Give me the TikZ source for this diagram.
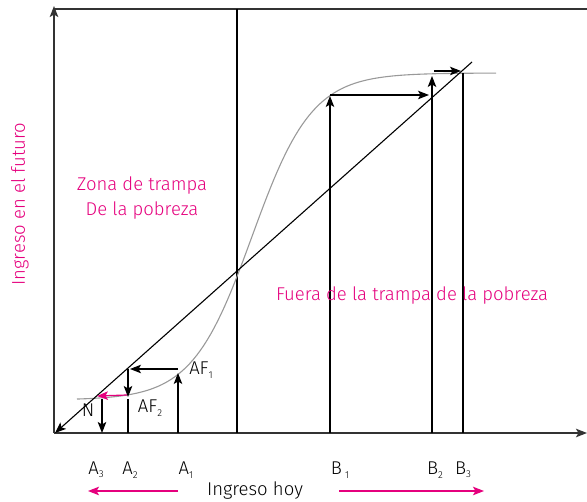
\documentclass[tikz,border=0pt]{standalone}
\usepackage{fontspec}
\setmainfont{Fira Sans}[UprightFont={* Light}]
\usetikzlibrary{arrows.meta}
\definecolor{mag}{HTML}{E5007D}
\definecolor{curvegray}{HTML}{999999}
\definecolor{axisgray}{HTML}{333333}
\tikzset{
  tip/.style={-{Stealth[length=11pt,width=8.5pt,inset=2.5pt]}},
  ln/.style={line width=1.1pt, black},
  ax/.style={line width=1.4pt, axisgray},
  lab/.style={font=\fontsize{18.5}{20}\selectfont, inner sep=0pt},
  maglab/.style={font=\fontsize{18.5}{24.5}\selectfont, text=mag, inner sep=0pt, align=center},
  magarrow/.style={line width=1.2pt, mag, -{Stealth[length=11pt,width=8.5pt,inset=2.5pt]}}
}
\newcommand{\subl}[1]{\raisebox{-0.35ex}{\fontsize{10}{10}\selectfont #1}}
\begin{document}
\begin{tikzpicture}[x=1pt,y=-1pt]
\useasboundingbox (0,0) rectangle (587,502);
% coordinates
\coordinate (O) at (54,433);
\coordinate (Ytop) at (54,6);
\coordinate (TL) at (54,9);
\coordinate (TR) at (587,9);
\coordinate (Xend) at (587,433);
\coordinate (M1) at (237,9);
\coordinate (M0) at (237,433);
\coordinate (D1) at (472,62);
\coordinate (D0) at (55,433);
% axes
\draw[ax, tip] (O) -- (Ytop);
\draw[ax] (TL) -- (TR);
\draw[ax, tip] (O) -- (Xend);
\draw[ln] (M1) -- (M0);
% curve
\draw[curvegray, line width=1.1pt] plot[domain=77:496, samples=120] (\x, {73+327/(1+exp((\x-252)/30))});
% diagonal
\draw[ln, tip] (D1) -- (D0);
% lower dynamics
\coordinate (A1b) at (178,433); \coordinate (A1t) at (178,373);
\coordinate (H1a) at (178,369); \coordinate (H1b) at (130,369);
\coordinate (V2a) at (128,369); \coordinate (V2b) at (128,397);
\coordinate (A2b) at (128,433); \coordinate (A2t) at (128,399);
\coordinate (Ma) at (127,395); \coordinate (Mb) at (97,396);
\coordinate (Na) at (102,399); \coordinate (Nb) at (102,433);
\draw[ln, tip] (A1b) -- (A1t);
\draw[ln, tip] (H1a) -- (H1b);
\draw[ln, tip] (V2a) -- (V2b);
\draw[ln] (A2b) -- (A2t);
\draw[magarrow] (Ma) -- (Mb);
\draw[ln, tip] (Na) -- (Nb);
% upper dynamics
\coordinate (B1b) at (330,433); \coordinate (B1t) at (330,96);
\coordinate (HBa) at (330,95); \coordinate (HBb) at (429,95);
\coordinate (B2b) at (432,433); \coordinate (B2t) at (432,76);
\coordinate (HCa) at (434,71); \coordinate (HCb) at (461,71);
\coordinate (B3b) at (463,433); \coordinate (B3t) at (463,73);
\draw[ln, tip] (B1b) -- (B1t);
\draw[ln, tip] (HBa) -- (HBb);
\draw[ln, tip] (B2b) -- (B2t);
\draw[ln, tip] (HCa) -- (HCb);
\draw[ln] (B3b) -- (B3t);
% labels
\node[lab] (lAF1) at (201,370) {AF\subl{1}};
\node[lab] (lAF2) at (150,408) {AF\subl{2}};
\node[lab] (lN) at (88,410) {N};
\node[lab] (lA3) at (96,470) {A\subl{3}};
\node[lab] (lA2) at (130,470) {A\subl{2}};
\node[lab] (lA1) at (186,470) {A\subl{1}};
\node[lab] (lB1) at (340,470) {B\,\subl{1}};
\node[lab] (lB2) at (435,470) {B\subl{2}};
\node[lab] (lB3) at (463,470) {B\subl{3}};
\node[lab] (lx) at (255,491) {Ingreso hoy};
\node[maglab] (lzona) at (142,198) {Zona de trampa\\De la pobreza};
\node[maglab] (lfuera) at (412,296) {Fuera de la trampa de la pobreza};
\node[maglab, rotate=90] (ly) at (20,204) {Ingreso en el futuro};
% bottom magenta arrows
\coordinate (LAa) at (178,491); \coordinate (LAb) at (88,491);
\coordinate (RAa) at (339,491); \coordinate (RAb) at (484,491);
\draw[magarrow] (LAa) -- (LAb);
\draw[magarrow] (RAa) -- (RAb);
\end{tikzpicture}
\end{document}
